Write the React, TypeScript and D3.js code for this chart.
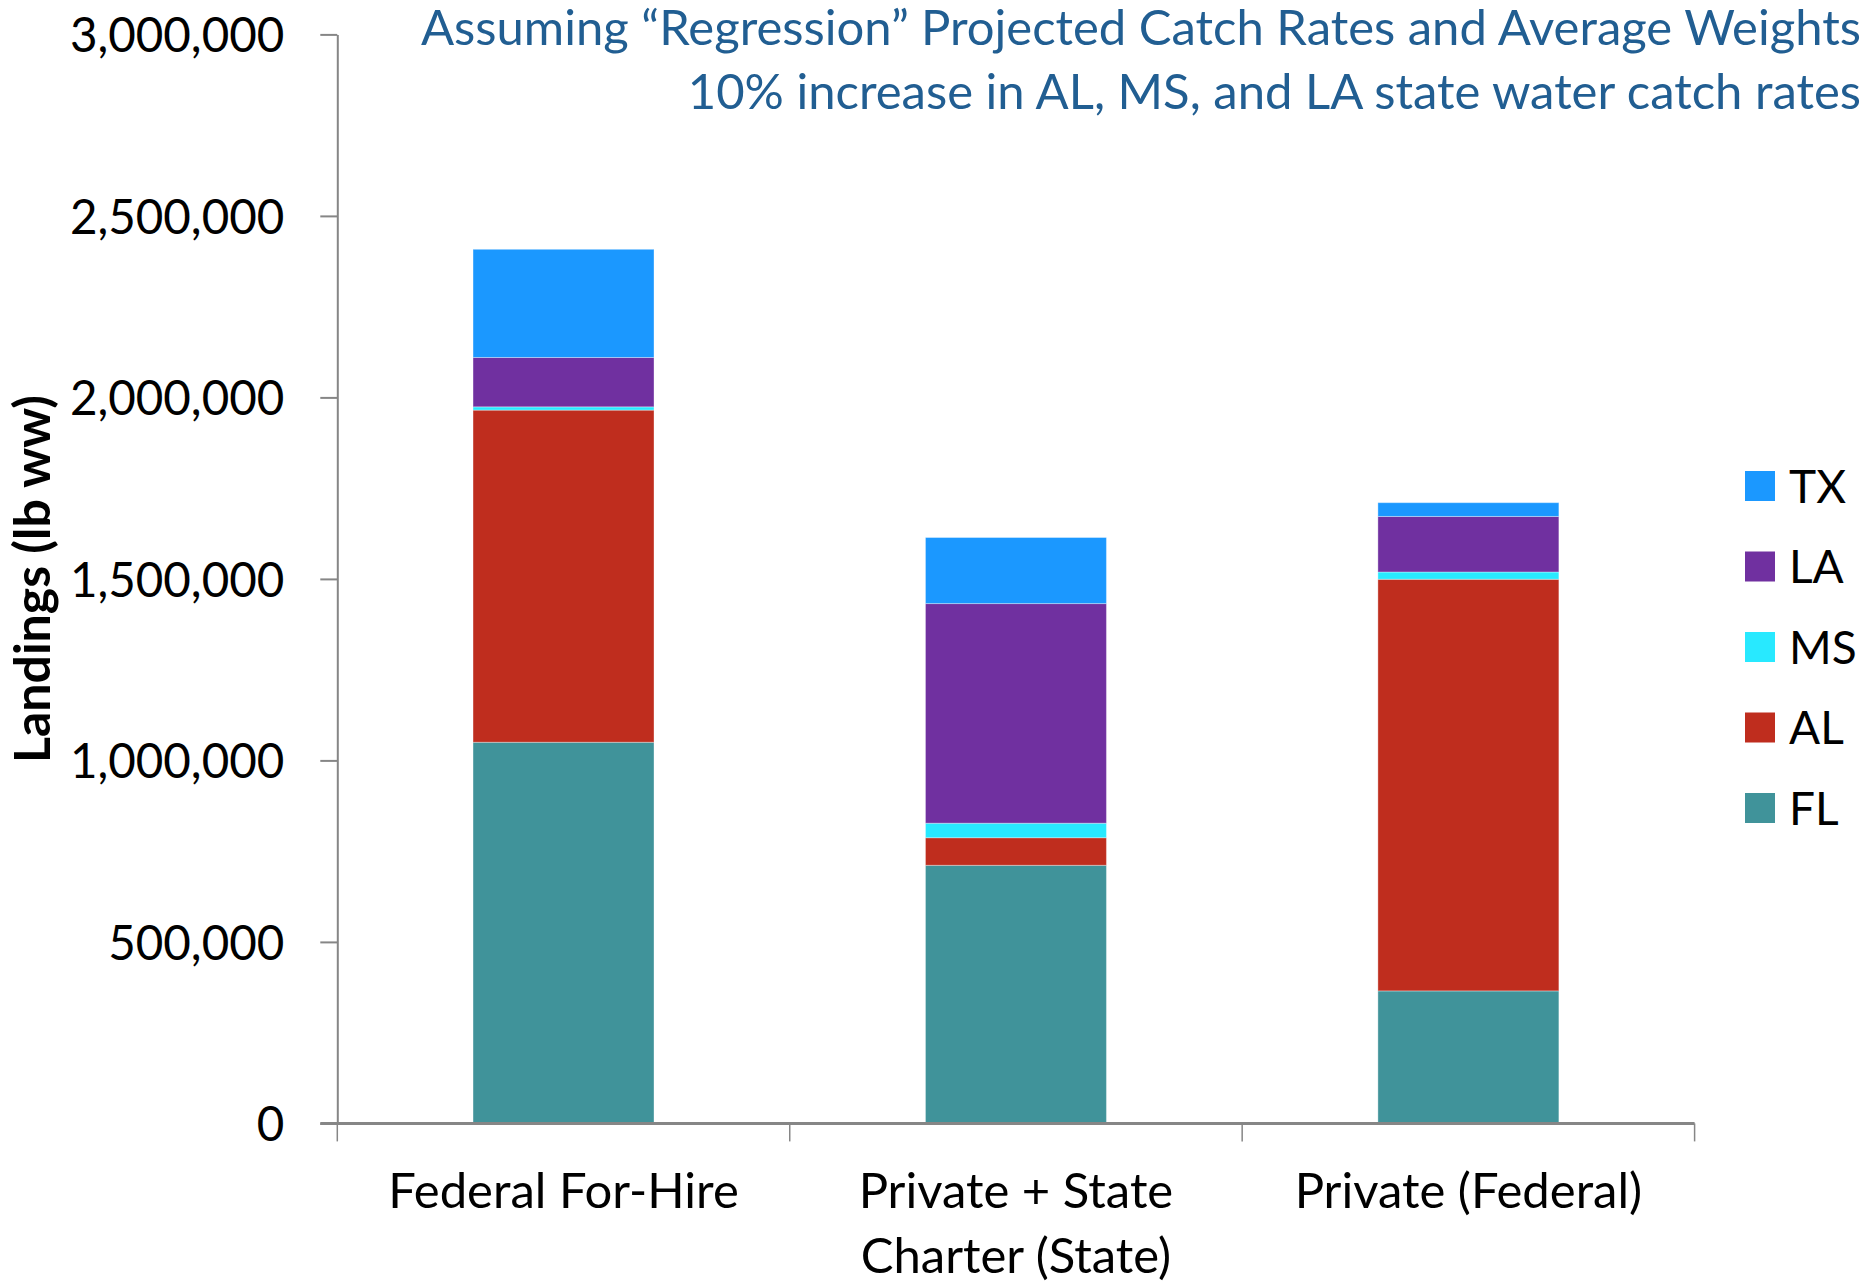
import React from 'react';
import { useRef, useEffect } from 'react';
import * as d3 from 'd3';

// categories (x) and the multi-line tick labels under them
const categories = ["Federal For-Hire", "Private + State Charter (State)", "Private (Federal)"];
const categoryLines = [["Federal For-Hire"], ["Private + State", "Charter (State)"], ["Private (Federal)"]];

// stacked series, bottom to top
const stateKeys = ["FL", "AL", "MS", "LA", "TX"];
const flValues = [1050000, 711000, 365000];
const alValues = [915000, 76000, 1134000];
const msValues = [9000, 40000, 20000];
const laValues = [136000, 605000, 153000];
const txValues = [298000, 182000, 38000];

const yTicks = [0, 500000, 1000000, 1500000, 2000000, 2500000, 3000000];
const titleLines = [
  "Assuming \u201CRegression\u201D Projected Catch Rates and Average Weights",
  "10% increase in AL, MS, and LA state water catch rates",
];
const yLabel = "Landings (lb ww)";

const chartStyle = {
  font: "Lato, 'Open Sans', sans-serif",
  tickFontSize: 47.5,
  catFontSize: 49,
  titleFontSize: 49,
  legendFontSize: 46,
  axisColor: "#868686",
  titleColor: "#215E92",
  colors: {
    FL: "#40939A",
    AL: "#BF2D1E",
    MS: "#28E9FF",
    LA: "#7030A0",
    TX: "#1B98FF",
  } as Record<string, string>,
};

const width = 1862;
const height = 1282;

const App: React.FC = () => {
  const svgRef = useRef<SVGSVGElement>(null);

  useEffect(() => {
    if (!svgRef.current) return;
    const svg = d3.select(svgRef.current);
    svg.selectAll("*").remove();

    const rows = categories.map((c, i) => ({
      category: c,
      FL: flValues[i],
      AL: alValues[i],
      MS: msValues[i],
      LA: laValues[i],
      TX: txValues[i],
    }));

    const plotLeft = 337.3;
    const plotRight = 1694.6;
    const plotTop = 34.4;
    const plotBottom = 1123.4;

    const xScale = d3.scaleBand<string>()
      .domain(categories)
      .range([plotLeft, plotRight])
      .paddingInner(0.6)
      .paddingOuter(0.3);

    const yScale = d3.scaleLinear()
      .domain([0, 3000000])
      .range([plotBottom, plotTop]);

    const stack = d3.stack<any>().keys(stateKeys);
    const series = stack(rows);

    // bars
    svg.append("g")
      .selectAll("g")
      .data(series)
      .join("g")
      .attr("fill", d => chartStyle.colors[d.key])
      .selectAll("rect")
      .data(d => d)
      .join("rect")
      .attr("x", d => xScale(d.data.category)!)
      .attr("width", xScale.bandwidth())
      .attr("y", d => yScale(d[1]))
      .attr("height", d => yScale(d[0]) - yScale(d[1]))
      .attr("stroke", "white")
      .attr("stroke-opacity", 0.35)
      .attr("stroke-width", 1);

    // y axis
    const yAxis = d3.axisLeft<number>(yScale)
      .tickValues(yTicks)
      .tickFormat(d3.format(","))
      .tickSize(17)
      .tickSizeOuter(0)
      .tickPadding(36);

    const yg = svg.append("g")
      .attr("transform", `translate(${plotLeft},0)`)
      .call(yAxis);
    yg.select(".domain").attr("stroke", chartStyle.axisColor).attr("stroke-width", 2);
    yg.selectAll(".tick line").attr("stroke", chartStyle.axisColor).attr("stroke-width", 2);
    yg.selectAll(".tick text")
      .style("font-family", chartStyle.font)
      .style("font-size", `${chartStyle.tickFontSize}px`)
      .attr("fill", "black")
      .attr("dy", "0.36em");

    // x axis (ticks on the category boundaries)
    const step = xScale.step();
    const xg = svg.append("g");
    xg.append("line")
      .attr("x1", plotLeft - 17).attr("x2", plotRight)
      .attr("y1", plotBottom).attr("y2", plotBottom)
      .attr("stroke", chartStyle.axisColor)
      .attr("stroke-width", 3);
    xg.selectAll(".xtick")
      .data(d3.range(categories.length + 1))
      .join("line")
      .attr("class", "xtick")
      .attr("x1", i => plotLeft + i * step).attr("x2", i => plotLeft + i * step)
      .attr("y1", plotBottom).attr("y2", plotBottom + 18)
      .attr("stroke", chartStyle.axisColor)
      .attr("stroke-width", 1.5);

    const labels = xg.selectAll(".xlabel")
      .data(categories)
      .join("text")
      .attr("class", "xlabel")
      .attr("text-anchor", "middle")
      .style("font-family", chartStyle.font)
      .style("font-size", `${chartStyle.catFontSize}px`)
      .attr("fill", "black");
    labels.each(function (c, i) {
      const cx = xScale(c)! + xScale.bandwidth() / 2;
      d3.select(this).selectAll("tspan")
        .data(categoryLines[i])
        .join("tspan")
        .attr("x", cx)
        .attr("y", (_, j) => 1208 + j * 65)
        .text(t => t);
    });

    // y label
    svg.append("text")
      .attr("transform", `translate(50,${(392 + 766) / 2}) rotate(-90)`)
      .attr("text-anchor", "middle")
      .style("font-family", chartStyle.font)
      .style("font-size", "50px")
      .style("font-weight", "bold")
      .attr("fill", "black")
      .text(yLabel);

    // title
    svg.append("g")
      .selectAll("text")
      .data(titleLines)
      .join("text")
      .attr("x", 1861)
      .attr("y", (_, i) => 45 + i * 64)
      .attr("text-anchor", "end")
      .style("font-family", chartStyle.font)
      .style("font-size", `${chartStyle.titleFontSize}px`)
      .attr("fill", chartStyle.titleColor)
      .text(t => t);

    // legend (top to bottom: TX, LA, MS, AL, FL)
    const legendKeys = [...stateKeys].reverse();
    const lg = svg.append("g")
      .selectAll("g")
      .data(legendKeys)
      .join("g")
      .attr("transform", (_, i) => `translate(1745,${471 + i * 80.5})`);
    lg.append("rect")
      .attr("width", 30).attr("height", 30)
      .attr("fill", k => chartStyle.colors[k]);
    lg.append("text")
      .attr("x", 44)
      .attr("y", 15)
      .attr("dy", "0.36em")
      .style("font-family", chartStyle.font)
      .style("font-size", `${chartStyle.legendFontSize}px`)
      .attr("fill", "black")
      .text(k => k);
  }, []);

  return (
    <svg
      ref={svgRef}
      width={width}
      height={height}
      style={{ position: "absolute", left: 0, top: 0, background: "white" }}
    />
  );
};

export default App;
